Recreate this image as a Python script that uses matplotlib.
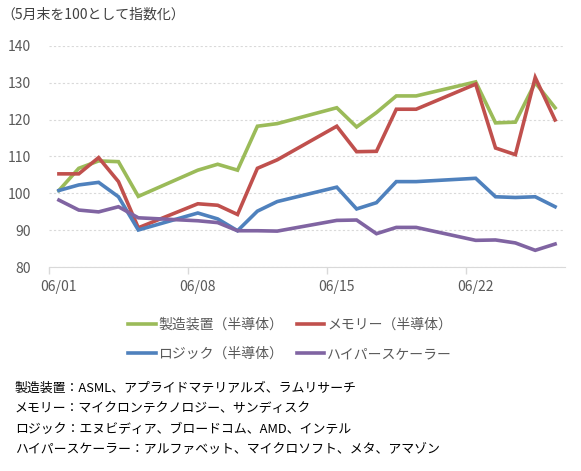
import pandas as pd
import matplotlib
matplotlib.use('Agg')
import matplotlib.pyplot as plt

plt.rcParams['font.family'] = ['Noto Sans CJK JP', 'DejaVu Sans']

# trading days (index, end of May = 100)
dates = pd.to_datetime(['2026-06-01', '2026-06-02', '2026-06-03', '2026-06-04', '2026-06-05',
                        '2026-06-08', '2026-06-09', '2026-06-10', '2026-06-11', '2026-06-12',
                        '2026-06-15', '2026-06-16', '2026-06-17', '2026-06-18', '2026-06-19',
                        '2026-06-22', '2026-06-23', '2026-06-24', '2026-06-25', '2026-06-26'])
equipment = [100.8, 106.8, 108.8, 108.6, 99.2, 106.3, 107.9, 106.3, 118.2, 118.9,
             123.2, 118.0, 121.9, 126.4, 126.4, 130.2, 119.1, 119.3, 130.0, 123.2]
memory = [105.3, 105.3, 109.7, 103.2, 90.7, 97.2, 96.8, 94.3, 106.8, 109.1,
          118.2, 111.3, 111.4, 122.8, 122.8, 129.6, 112.3, 110.5, 131.4, 119.9]
logic = [100.8, 102.3, 103.0, 99.1, 90.1, 94.7, 93.1, 89.9, 95.2, 97.8,
         101.7, 95.8, 97.5, 103.2, 103.2, 104.1, 99.1, 98.9, 99.1, 96.4]
hyperscaler = [98.2, 95.5, 95.0, 96.4, 93.4, 92.6, 92.1, 89.9, 89.9, 89.8,
               92.7, 92.8, 89.1, 90.8, 90.8, 87.3, 87.4, 86.6, 84.6, 86.3]

series_names = ['製造装置（半導体）', 'メモリー（半導体）', 'ロジック（半導体）', 'ハイパースケーラー']
colors = ['#9BBB59', '#C0504D', '#4F81BD', '#8064A2']

label_dates = pd.to_datetime(['2026-06-01', '2026-06-08', '2026-06-15', '2026-06-22'])
xtick_labels = ['06/01', '06/08', '06/15', '06/22']

notes = ['製造装置：ASML、アプライドマテリアルズ、ラムリサーチ',
         'メモリー：マイクロンテクノロジー、サンディスク',
         'ロジック：エヌビディア、ブロードコム、AMD、インテル',
         'ハイパースケーラー：アルファベット、マイクロソフト、メタ、アマゾン']

W, H = 581, 471
fig = plt.figure(figsize=(W / 100, H / 100), dpi=100)
ax = fig.add_axes([49 / W, 1 - 267.3 / H, (565 - 49) / W, (267.3 - 45.7) / H])

lines = []
for vals, name, c in zip([equipment, memory, logic, hyperscaler], series_names, colors):
    ln, = ax.plot(dates, vals, color=c, lw=2.6, label=name, solid_joinstyle='miter')
    lines.append(ln)

half = pd.Timedelta(hours=12)
ax.set_xlim(pd.Timestamp('2026-06-01') - half, pd.Timestamp('2026-06-26') + half)
ax.set_ylim(80, 140)
ax.set_yticks(range(80, 141, 10))

# tick marks between days, labels centred on the day
ax.set_xticks(label_dates - half)
ax.set_xticklabels([])
ax.set_xticks(label_dates, minor=True)
ax.set_xticklabels(xtick_labels, minor=True)
ax.tick_params(axis='x', which='major', length=5, width=1, color='#d9d9d9')
ax.tick_params(axis='x', which='minor', length=0, pad=9, labelsize=10, labelcolor='#595959')
ax.tick_params(axis='y', length=0, pad=13, labelsize=10, labelcolor='#595959')

for s in ['top', 'right', 'left']:
    ax.spines[s].set_visible(False)
ax.spines['bottom'].set_color('#d9d9d9')
ax.grid(axis='y', color='#d9d9d9', lw=0.8, ls=(0, (2, 2)))
ax.set_axisbelow(True)

fig.text(1 / W, 1 - 15 / H, '（5月末を100として指数化）', ha='left', va='center',
         fontsize=10, color='#404040')

# legend is filled column by column, so reorder to get row-wise layout
order = [0, 2, 1, 3]
fig.legend([lines[i] for i in order], [series_names[i] for i in order],
           loc='center', bbox_to_anchor=(290 / W, 1 - 339.5 / H), ncol=2, frameon=False,
           fontsize=10, handlelength=2.0, handletextpad=0.2, columnspacing=0.95,
           labelspacing=1.1, labelcolor='#595959')

for i, t in enumerate(notes):
    fig.text(15 / W, 1 - (388 + i * 20.6) / H, t, ha='left', va='center',
             fontsize=9.3, color='#000000')

fig.savefig('out.png', dpi=100)
